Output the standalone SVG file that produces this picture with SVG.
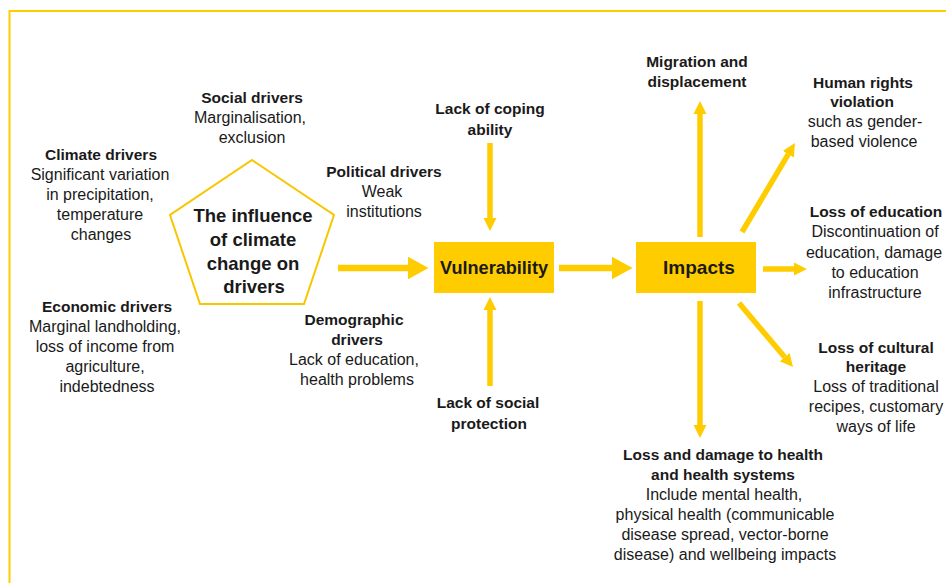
<svg xmlns="http://www.w3.org/2000/svg" width="946" height="583" viewBox="0 0 946 583">
<defs>
<style>
.t{font-family:"Liberation Sans",Arial,sans-serif;fill:#1a1a1a;text-anchor:middle;font-size:16px}
.b{font-weight:bold;font-size:15.5px}
.ln{stroke:#FFCC00;fill:none}
.sh{stroke:#FFCC00;stroke-width:5.5;fill:none}
.mh{stroke:#FFCC00;stroke-width:6.3;fill:none}
.box{fill:#FFCC00}
</style>
<marker id="ah" markerUnits="userSpaceOnUse" markerWidth="14" markerHeight="14" refX="0" refY="6.5" orient="auto" viewBox="0 0 14 13">
<path d="M0,0 L13,6.5 L0,13 Z" fill="#FFCC00"/>
</marker>
<marker id="ahL" markerUnits="userSpaceOnUse" markerWidth="21" markerHeight="23" refX="0" refY="11.25" orient="auto" viewBox="0 0 21 22.5">
<path d="M0,0 L20.5,11.25 L0,22.5 Z" fill="#FFCC00"/>
</marker>
</defs>
<rect width="946" height="583" fill="#ffffff"/>
<path class="ln" stroke-width="2" d="M946,11 H9.5 V583"/>

<g id="connectors">
<line class="mh" x1="338" y1="268" x2="408" y2="268" marker-end="url(#ahL)"/>
<line class="mh" x1="559" y1="268" x2="612" y2="268" marker-end="url(#ahL)"/>
<line class="sh" x1="490" y1="143" x2="490" y2="218" marker-end="url(#ah)"/>
<line class="sh" x1="490" y1="386" x2="490" y2="310" marker-end="url(#ah)"/>
<line class="sh" x1="700" y1="237" x2="700" y2="114" marker-end="url(#ah)"/>
<line class="sh" x1="742" y1="232" x2="788.3" y2="154.2" marker-end="url(#ah)"/>
<line class="sh" x1="763" y1="269" x2="794" y2="269" marker-end="url(#ah)"/>
<line class="sh" x1="739" y1="303" x2="784.6" y2="357.1" marker-end="url(#ah)"/>
<line class="sh" x1="700" y1="301" x2="700" y2="425" marker-end="url(#ah)"/>
</g>

<g id="influence">
<polygon points="252,160 334,215 304,304 200,304 170,215" fill="none" stroke="#F7C600" stroke-width="2"/>
<text class="t" style="font-weight:bold;font-size:18.5px"><tspan x="253" y="222">The influence</tspan><tspan x="253" y="246">of climate</tspan><tspan x="253" y="269.5">change on</tspan><tspan x="254" y="293">drivers</tspan></text>
</g>

<g id="climate">
<text class="t"><tspan class="b" x="101" y="160">Climate drivers</tspan><tspan x="100" y="180">Significant variation</tspan><tspan x="100" y="200">in precipitation,</tspan><tspan x="100" y="220">temperature</tspan><tspan x="101" y="240">changes</tspan></text>
</g>

<g id="economic">
<text class="t"><tspan class="b" x="107" y="312">Economic drivers</tspan><tspan x="105" y="332">Marginal landholding,</tspan><tspan x="105" y="352">loss of income from</tspan><tspan x="105" y="372">agriculture,</tspan><tspan x="107" y="392">indebtedness</tspan></text>
</g>

<g id="social">
<text class="t"><tspan class="b" x="252" y="103">Social drivers</tspan><tspan x="250" y="123">Marginalisation,</tspan><tspan x="252" y="143">exclusion</tspan></text>
</g>

<g id="political">
<text class="t"><tspan class="b" x="384" y="177">Political drivers</tspan><tspan x="382" y="197">Weak</tspan><tspan x="384" y="217">institutions</tspan></text>
</g>

<g id="demographic">
<text class="t"><tspan class="b" x="354" y="325">Demographic</tspan><tspan class="b" x="357" y="345">drivers</tspan><tspan x="354" y="365">Lack of education,</tspan><tspan x="357" y="385">health problems</tspan></text>
</g>

<g id="coping">
<text class="t"><tspan class="b" x="490" y="114">Lack of coping</tspan><tspan class="b" x="490" y="135">ability</tspan></text>
</g>

<g id="socialprotection">
<text class="t"><tspan class="b" x="488" y="408">Lack of social</tspan><tspan class="b" x="489" y="429">protection</tspan></text>
</g>

<g id="vulnerability">
<rect class="box" x="434" y="242" width="120" height="51"/>
<text class="t" x="494" y="274" style="font-weight:bold;font-size:18px" textLength="108" lengthAdjust="spacingAndGlyphs">Vulnerability</text>
</g>

<g id="impacts">
<rect class="box" x="636" y="242" width="120" height="51"/>
<text class="t" x="699" y="274" style="font-weight:bold;font-size:19px">Impacts</text>
</g>

<g id="migration">
<text class="t"><tspan class="b" x="697" y="67">Migration and</tspan><tspan class="b" x="697" y="87">displacement</tspan></text>
</g>

<g id="humanrights">
<text class="t"><tspan class="b" x="863" y="88">Human rights</tspan><tspan class="b" x="862" y="107">violation</tspan><tspan x="865" y="127">such as gender-</tspan><tspan x="864" y="147">based violence</tspan></text>
</g>

<g id="education">
<text class="t"><tspan class="b" x="876" y="217">Loss of education</tspan><tspan x="875" y="237">Discontinuation of</tspan><tspan x="874" y="258">education, damage</tspan><tspan x="875" y="278">to education</tspan><tspan x="875" y="298">infrastructure</tspan></text>
</g>

<g id="cultural">
<text class="t"><tspan class="b" x="876" y="353">Loss of cultural</tspan><tspan class="b" x="876" y="372">heritage</tspan><tspan x="876" y="392">Loss of traditional</tspan><tspan x="876" y="412">recipes, customary</tspan><tspan x="876" y="432">ways of life</tspan></text>
</g>

<g id="health">
<text class="t"><tspan class="b" x="723" y="460">Loss and damage to health</tspan><tspan class="b" x="723" y="480">and health systems</tspan><tspan x="724" y="500">Include mental health,</tspan><tspan x="725" y="520">physical health (communicable</tspan><tspan x="725" y="540">disease spread, vector-borne</tspan><tspan x="725" y="560">disease) and wellbeing impacts</tspan></text>
</g>
</svg>
